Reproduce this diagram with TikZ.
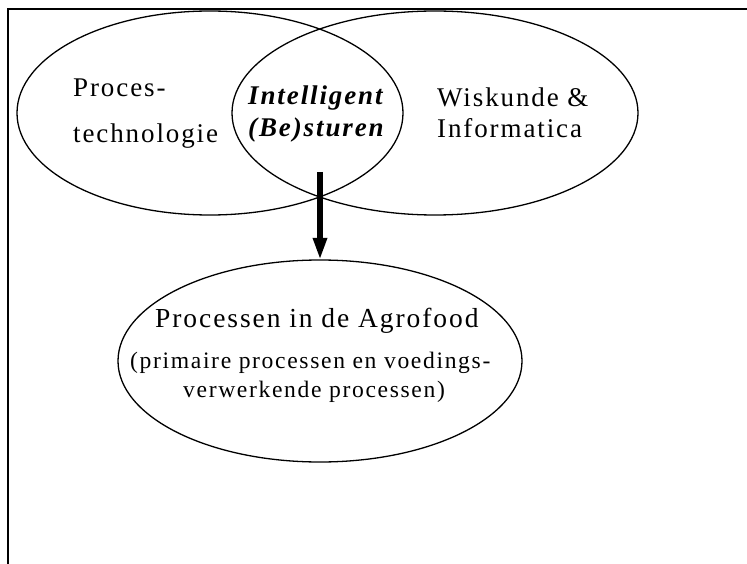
\documentclass[tikz,border=0pt]{standalone}
\usepackage{fontspec}
\setmainfont{Liberation Serif}[LetterSpace=7]
\usetikzlibrary{shapes.geometric,arrows.meta}
\begin{document}
\begin{tikzpicture}[x=1pt,y=-1pt,
  ring/.style={draw, ellipse, line width=1.3pt, inner sep=0pt, outer sep=0pt},
  lbl/.style={inner sep=0pt, anchor=base west, font=\fontsize{27}{31}\selectfont},
  sublbl/.style={inner sep=0pt, anchor=base west, font=\fontsize{23.6}{28}\selectfont},
  core/.style={inner sep=0pt, anchor=base west, font=\fontsize{27}{31}\selectfont\bfseries\itshape}]
\useasboundingbox (0,0) rectangle (747,564);
% open frame: left and top edges
\draw[line width=2pt] (8,564) -- (8,9) -- (747,9);

% the three areas
\node[ring, minimum width=386pt, minimum height=204pt] (proc) at (210,113) {};
\node[ring, minimum width=406pt, minimum height=204pt] (math) at (435,113) {};
\node[ring, minimum width=404pt, minimum height=202pt] (agro) at (320,361) {};

% labels of the upper areas
\node[lbl] (proc1) at (73,97) {Proces-};
\node[lbl] (proc2) at (73,143) {technologie};
\node[core] (core1) at (248,105) {Intelligent};
\node[core] (core2) at (248,137) {(Be)sturen};
\node[lbl] (math1) at (437,107) {Wiskunde \&};
\node[lbl] (math2) at (437,138) {Informatica};

% labels of the lower area
\node[lbl, font=\fontsize{27.5}{31}\selectfont] (agro1) at (155,327) {Processen in de Agrofood};
\node[sublbl] (agro2) at (130,368) {(primaire processen en voedings-};
\node[sublbl] (agro3) at (183,397) {verwerkende processen)};

% arrow from the overlap down to the application area
\coordinate (src) at (320,172);
\draw[line width=5.5pt, -{Triangle[width=13pt,length=22pt]}] (src) -- (agro.north);
\end{tikzpicture}
\end{document}
